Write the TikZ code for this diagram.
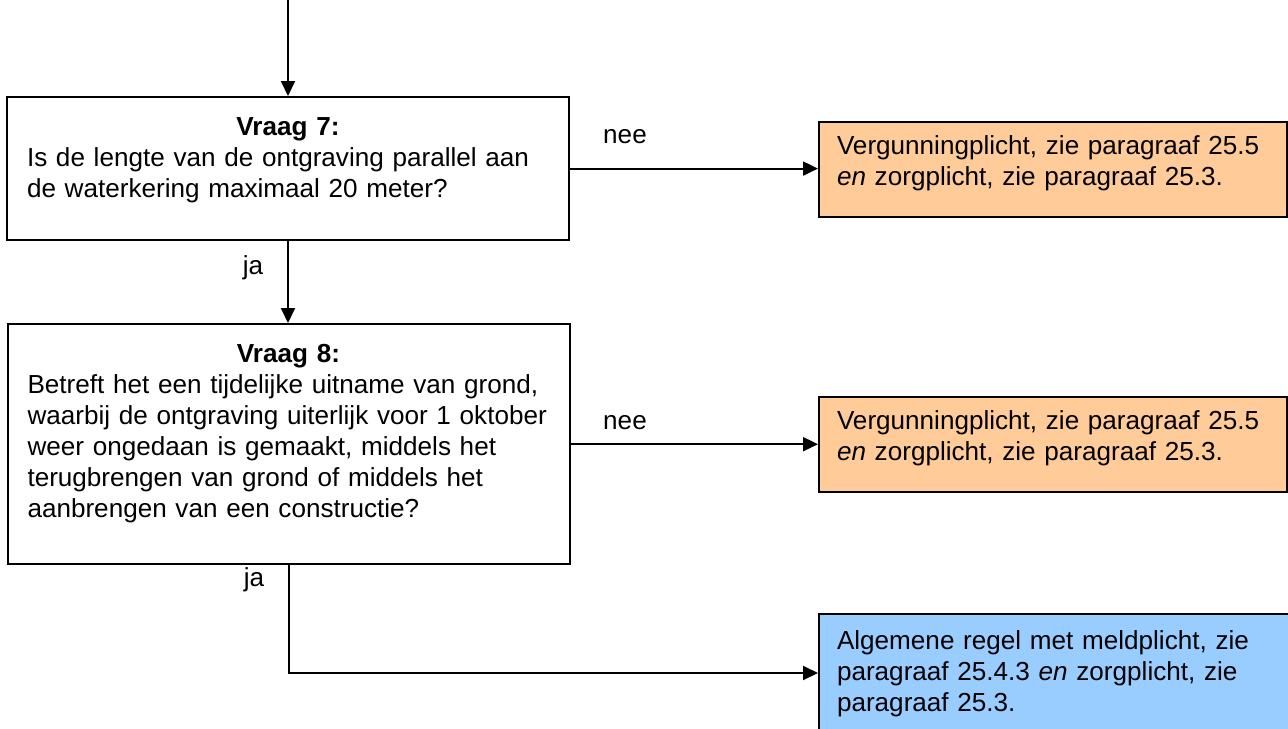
\documentclass[tikz,border=0pt]{standalone}
\usepackage{fontspec}
\setmainfont{Liberation Sans}
\usepackage{tikz}
\usetikzlibrary{arrows.meta}

\definecolor{vergunning}{RGB}{255,204,153}
\definecolor{melding}{RGB}{153,204,255}

\begin{document}
\begin{tikzpicture}[x=0.5pt, y=-0.5pt,
    every node/.style={font=\fontsize{13.05}{15.5}\selectfont},
    qbox/.style={draw, line width=1pt, anchor=north, minimum width=281pt, text width=261pt,
      inner xsep=10pt, inner ysep=10.3pt, align=left},
    obox/.style={draw, line width=1pt, fill=vergunning, anchor=north west,
      text width=216pt, inner xsep=9pt, inner ysep=7pt, text depth=24pt, align=left},
    mbox/.style={draw, line width=1pt, fill=melding, anchor=north west,
      text width=222pt, inner xsep=9pt, inner ysep=8.5pt, text depth=60pt, align=left},
    lbl/.style={inner sep=0pt},
    pijl/.style={line width=1pt, -{Triangle[length=7.5pt,width=7pt]}}]
      \clip (0,0) rectangle (1288,728);
      \useasboundingbox (0,0) rectangle (1288,728);
      \coordinate (start) at (288,0);
      \node at (288,96)[qbox, text depth=42pt] (q7){{\centering\textbf{Vraag 7:}\par}Is de lengte van de ontgraving parallel aan\\de waterkering maximaal 20 meter?};
      \node at (288.5,323)[qbox, text depth=90.5pt] (q8){{\centering\textbf{Vraag 8:}\par}\mbox{Betreft het een tijdelijke uitname van grond,}\\\mbox{waarbij de ontgraving uiterlijk voor 1 oktober}\\weer ongedaan is gemaakt, middels het\\terugbrengen van grond of middels het\\aanbrengen van een constructie?};
      \node at (818,121)[obox] (o1){Vergunningplicht, zie paragraaf 25.5\\\emph{en} zorgplicht, zie paragraaf 25.3.};
      \node at (818,396)[obox] (o2){Vergunningplicht, zie paragraaf 25.5\\\emph{en} zorgplicht, zie paragraaf 25.3.};
      \node at (818,613)[mbox] (m1){Algemene regel met meldplicht, zie\\paragraaf 25.4.3 \emph{en} zorgplicht, zie\\paragraaf 25.3.};
      \node at (625,137)[lbl] (nee1){nee};
      \node at (625,423)[lbl] (nee2){nee};
      \node at (253,268)[lbl] (ja1){ja};
      \node at (254,580)[lbl] (ja2){ja};
      \coordinate (hoek) at (288.5,673);
      \draw[pijl] (start) -- (q7.north);
      \draw[pijl] (q7.south) -- (q7.south |- q8.north);
      \draw[pijl] (q7.east) -- (q7.east -| o1.west);
      \draw[pijl] (q8.east) -- (q8.east -| o2.west);
      \draw[pijl] (q8.south) -- (hoek) -- (hoek -| m1.west);
\end{tikzpicture}
\end{document}
